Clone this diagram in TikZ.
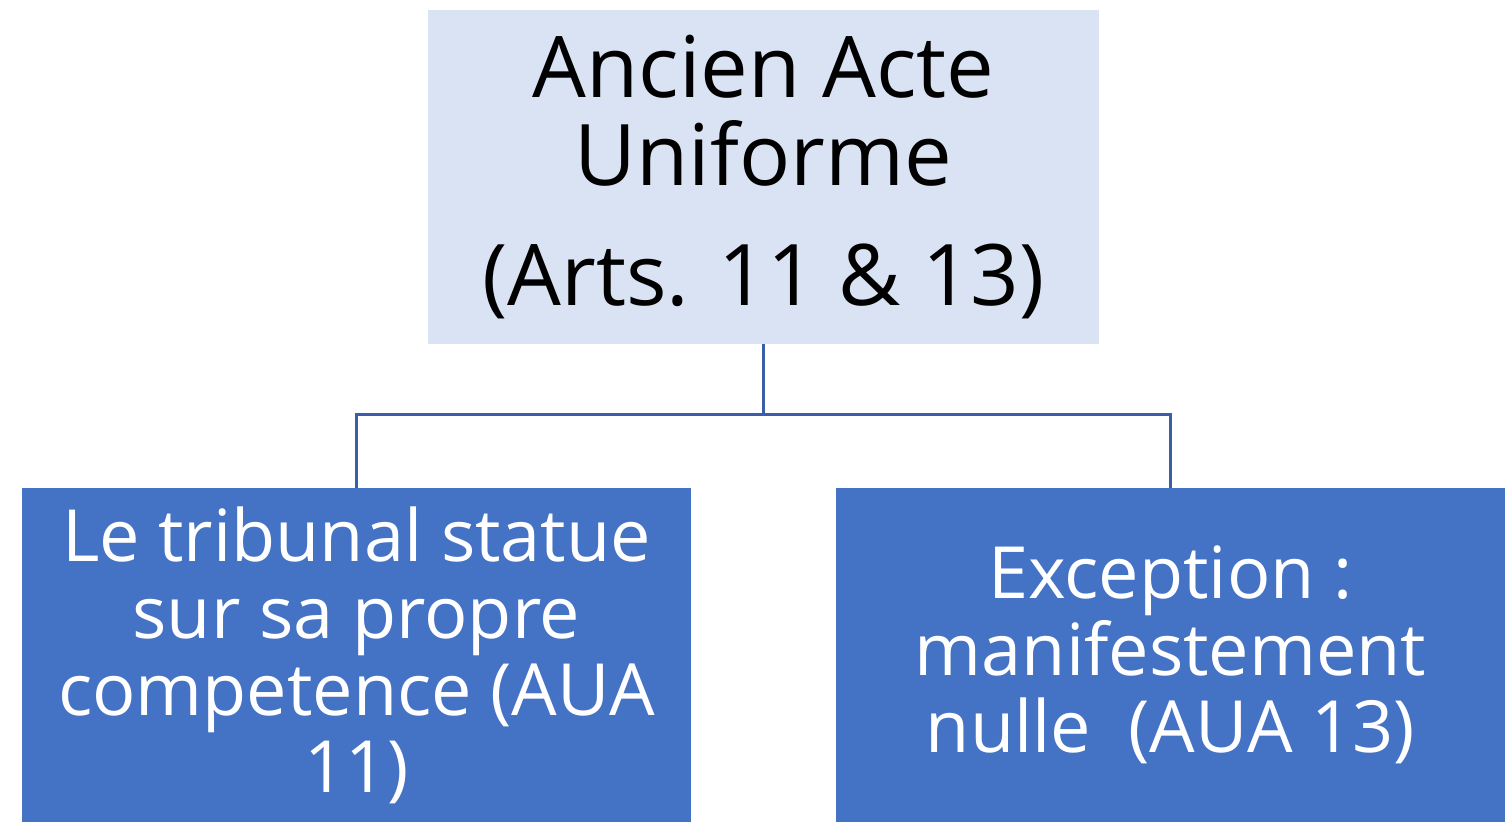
\documentclass[tikz,border=0pt]{standalone}
\usepackage{fontspec}
\setmainfont{Open Sans}
\usetikzlibrary{positioning}

\definecolor{paleblue}{HTML}{DAE3F3}
\definecolor{boxblue}{HTML}{4472C4}
\definecolor{lineblue}{HTML}{3B5EA8}

\begin{document}
\begin{tikzpicture}[x=0.5pt,y=-0.5pt]

\tikzstyle{every node}=[rectangle, inner sep=0pt, align=center]
\tikzstyle{head} = [fill=paleblue, text=black, minimum width=335.5pt, minimum height=167pt, font=\fontsize{42.5}{44}\selectfont]
\tikzstyle{leaf} = [fill=boxblue, text=white, minimum width=334.5pt, minimum height=167pt, font=\fontsize{36}{38.5}\selectfont]
\tikzstyle{link} = [draw=lineblue, line width=1.5pt]

\useasboundingbox (0,0) rectangle (1511,822);

\node[head] at (763.5,177) (ancien) {Ancien Acte\\Uniforme\\[16pt](Arts. 11 \& 13)};

\node[leaf] at (356.5,655) (tribunal) {Le tribunal statue\\sur sa propre\\competence (AUA\\11)};
\node[leaf] at (1170.5,655) (exception) {Exception :\\manifestement\\nulle~~(AUA 13)};

\coordinate (bus) at (763.5,415);
\draw[link] (ancien.south) -- (bus) -| (tribunal.north);
\draw[link] (bus) -| (exception.north);

\end{tikzpicture}
\end{document}
